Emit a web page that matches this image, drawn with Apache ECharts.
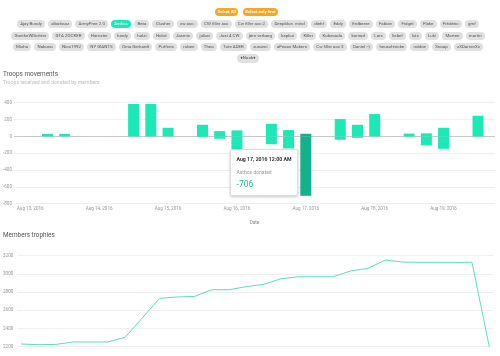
<!DOCTYPE html>
<html><head><meta charset="utf-8">
<script src="https://cdn.jsdelivr.net/npm/echarts@6/dist/echarts.min.js"></script>
<style>
html,body{margin:0;padding:0;width:500px;height:356px;overflow:hidden;background:#fff;font-family:Roboto,sans-serif;}
#chart{position:absolute;left:0;top:0;width:500px;height:420px;}
#header{position:absolute;left:0;top:0;width:500px;height:70px;z-index:5;}
.btns{position:absolute;top:7.5px;left:0;width:493px;display:flex;justify-content:center;gap:4.3px;}
.btn{height:8px;line-height:8px;padding:0 2.6px;border-radius:4px;background:#f5a623;color:#fff;font-size:4.3px;font-weight:700;white-space:nowrap;}
.row{position:absolute;left:0;width:496px;display:flex;justify-content:center;gap:3px;}
.chip{height:8.3px;line-height:8.3px;padding:0 3.2px;border-radius:4.2px;background:#e0e0e0;color:#555;font-size:4.4px;white-space:nowrap;}
.chip.sel{background:#1de9b6;color:#fff;}
</style></head>
<body>
<div id="chart"></div>
<div id="header"></div>
<script>
// ---------- data ----------
const buttons = ['Select All', 'Select only first'];
const memberRow1 = ['Ajay Bundy','albatracz','ArmyPree 2.0','Asthos','Beta','Clusher','cw acc.','CW filler acc','Cw filler acc 2','Deepblue. mind','diehf','Eddy','Erdbeere','Fabian','Fidget','Flake','Frédéric','gmf'];
const memberRow2 = ['GoetheWDichter','GTA ZOCKER','Hamster','hardy','holzi','Hohd','Jasmin','julian','Just 4 CW','jörn verbarg','kepkui','Killer','Kobecada','konrad','Lars','liebel','luis','Luki','Marten','martin'];
const memberRow3 = ['Micha','Nabuco','Nico1992','NY GIANTS','Oma Gerhardt','Puffreis','ruben','Theo','Tote ADER','zunami','aPeace Makers','Cw filler acc 3','Daniel :-)','heuschrecke','robbie','Snoop','xXDarrenXx'];
const memberRow4 = ['♦Noab♦'];
const selectedMember = 'Asthos';

const troopTimes = ['2016-08-13 06:00','2016-08-13 12:00','2016-08-14 12:00','2016-08-14 18:00','2016-08-15 00:00','2016-08-15 12:00','2016-08-15 18:00','2016-08-16 00:00','2016-08-16 12:00','2016-08-16 18:00','2016-08-17 00:00','2016-08-17 12:00','2016-08-17 18:00','2016-08-18 00:00','2016-08-18 12:00','2016-08-18 18:00','2016-08-19 00:00','2016-08-19 12:00'];
const received = [30,30,385,385,102,138,63,71,150,75,31,206,138,265,33,36,102,245];
const donated  = [0,0,0,0,0,-8,-28,-150,-92,-143,-706,-40,-17,0,-3,-107,-148,0];
const tooltipTime = '2016-08-17 00:00';

const trophyTimes = ['2016-08-13 00:00','2016-08-13 06:00','2016-08-13 12:00','2016-08-13 18:00','2016-08-14 00:00','2016-08-14 06:00','2016-08-14 12:00','2016-08-14 18:00','2016-08-15 00:00','2016-08-15 06:00','2016-08-15 12:00','2016-08-15 18:00','2016-08-16 00:00','2016-08-16 06:00','2016-08-16 12:00','2016-08-16 18:00','2016-08-17 00:00','2016-08-17 06:00','2016-08-17 12:00','2016-08-17 18:00','2016-08-18 00:00','2016-08-18 06:00','2016-08-18 12:00','2016-08-18 18:00','2016-08-19 00:00','2016-08-19 06:00','2016-08-19 12:00','2016-08-19 18:00'];
const trophies = [2230,2222,2225,2252,2252,2252,2303,2518,2732,2746,2752,2826,2826,2860,2886,2947,2969,2969,2969,3032,3061,3152,3130,3128,3128,3127,3127,2200];

const troopsTicks = [-800,-600,-400,-200,0,200,400];
const trophyTicks = [2200,2400,2600,2800,3000,3200];
const monthNames = ['Jan','Feb','Mar','Apr','May','Jun','Jul','Aug','Sep','Oct','Nov','Dec'];

// ---------- header (buttons + member chips) ----------
const headerEl = document.getElementById('header');
const bw = document.createElement('div'); bw.className='btns';
buttons.forEach(b=>{const e=document.createElement('div');e.className='btn';e.textContent=b;bw.appendChild(e);});
headerEl.appendChild(bw);
const rowTops = [20.05, 31.65, 42.65, 54.35];
[memberRow1,memberRow2,memberRow3,memberRow4].forEach((row,ri)=>{
  const r=document.createElement('div'); r.className='row'; r.style.top=rowTops[ri]+'px';
  row.forEach(n=>{const c=document.createElement('div');c.className='chip'+(n===selectedMember?' sel':'');c.textContent=n;r.appendChild(c);});
  headerEl.appendChild(r);
});

// ---------- helpers ----------
function ts(s){const [d,t]=s.split(' ');const [y,m,dd]=d.split('-').map(Number);const [h,mi]=t.split(':').map(Number);return new Date(y,m-1,dd,h,mi).getTime();}
const HOUR=3600000, DAY=86400000;
function dayLabel(v){const d=new Date(v);if(d.getHours()||d.getMinutes())return '';return monthNames[d.getMonth()]+' '+d.getDate()+', '+d.getFullYear();}
function fullLabel(v){const d=new Date(v);let h=d.getHours();const ap=h<12?'AM':'PM';h=h%12;if(h===0)h=12;const mi=String(d.getMinutes()).padStart(2,'0');return dayLabel(new Date(d.getFullYear(),d.getMonth(),d.getDate()).getTime())+' '+h+':'+mi+' '+ap;}

const BAR='#1de9b6', BAR_DARK='#17b08c';
const day13 = ts('2016-08-13 00:00'), day19 = ts('2016-08-19 00:00');
const recData = troopTimes.map((t,i)=>({value:[ts(t),received[i]], itemStyle: t===tooltipTime?{color:BAR_DARK}:undefined}));
const donData = troopTimes.map((t,i)=>({value:[ts(t),donated[i]], itemStyle: t===tooltipTime?{color:BAR_DARK}:undefined}));
const troLine = trophyTimes.map((t,i)=>[ts(t),trophies[i]]);

const axisLbl = {fontSize:4.6,color:'#999',fontFamily:'Roboto'};
const plainNum = v => String(v);
const chart = echarts.init(document.getElementById('chart'),null,{renderer:'canvas'});
chart.setOption({
  animation:false,
  backgroundColor:'transparent',
  textStyle:{fontFamily:'Roboto'},
  title:[
    {text:'Troops movements',subtext:'Troops received and donated by members',left:3,top:70.7,itemGap:0.5,padding:0,
     textStyle:{fontSize:6.4,lineHeight:8,fontWeight:'normal',color:'#555',fontFamily:'Roboto'},
     subtextStyle:{fontSize:5.2,lineHeight:7,color:'#bbb',fontFamily:'Roboto'}},
    {text:'Members trophies',left:3,top:231.7,padding:0,
     textStyle:{fontSize:6.4,lineHeight:8,fontWeight:'normal',color:'#555',fontFamily:'Roboto'}}
  ],
  grid:[
    {left:14,right:5,top:102.7,bottom:420-203.7},
    {left:17,right:7,top:255.7,bottom:420-346.7}
  ],
  xAxis:[
    {type:'time',gridIndex:0,min:day13-3.75*HOUR,max:day19+16*HOUR,minInterval:DAY,maxInterval:DAY,splitNumber:7,
     name:'Date',nameLocation:'middle',nameGap:17,nameTextStyle:{fontSize:4.6,color:'#888'},
     axisLine:{show:false},axisTick:{show:false},splitLine:{show:false},
     axisLabel:{...axisLbl,margin:3,formatter:dayLabel,hideOverlap:false,showMinLabel:false,showMaxLabel:false}},
    {type:'time',gridIndex:1,min:ts(trophyTimes[0])-1.28*HOUR,max:ts(trophyTimes[trophyTimes.length-1])+1.28*HOUR,minInterval:DAY,maxInterval:DAY,
     axisLine:{show:false},axisTick:{show:false},splitLine:{show:false},
     axisLabel:{show:false}}
  ],
  yAxis:[
    {type:'value',gridIndex:0,min:troopsTicks[0],max:troopsTicks[troopsTicks.length-1],interval:200,
     axisLine:{show:false},axisTick:{show:false},axisLabel:{...axisLbl,margin:2,formatter:plainNum},
     splitLine:{lineStyle:{color:troopsTicks.map(v=>v===0?'#c8c8c8':'#efefef'),width:1}}},
    {type:'value',gridIndex:1,min:trophyTicks[0],max:trophyTicks[trophyTicks.length-1],interval:200,
     axisLine:{show:false},axisTick:{show:false},axisLabel:{...axisLbl,margin:4,formatter:plainNum},
     splitLine:{lineStyle:{color:'#efefef',width:1}}}
  ],
  tooltip:{
    trigger:'item',triggerOn:'none',alwaysShowContent:true,transitionDuration:0,showDelay:0,
    position:[229.5,148.5],padding:0,backgroundColor:'#fff',borderColor:'#ddd',borderWidth:1,borderRadius:2,
    extraCssText:'box-shadow:0 1px 3px rgba(0,0,0,0.22);width:68px;height:46.5px;box-sizing:border-box;',
    formatter:function(p){
      return '<div style="font-family:Roboto;padding:4.5px 0 0 5.5px;text-align:left">'+
        '<div style="font-size:5.2px;line-height:8px;font-weight:700;color:#333;white-space:nowrap">'+fullLabel(p.value[0])+'</div>'+
        '<div style="font-size:5px;line-height:7px;color:#999;margin-top:6.8px;white-space:nowrap">'+selectedMember+' donated</div>'+
        '<div style="font-size:8.6px;line-height:10px;color:#26b99a;margin-top:2.5px">'+p.value[1]+'</div></div>';
    }
  },
  series:[
    {type:'bar',name:'received',stack:'troops',xAxisIndex:0,yAxisIndex:0,barWidth:11,itemStyle:{color:BAR},data:recData},
    {type:'bar',name:'donated',stack:'troops',xAxisIndex:0,yAxisIndex:0,barWidth:11,itemStyle:{color:BAR},data:donData},
    {type:'line',name:'trophies',xAxisIndex:1,yAxisIndex:1,symbol:'none',lineStyle:{color:'#5fd9c2',width:1},data:troLine}
  ]
});
chart.dispatchAction({type:'showTip',seriesIndex:1,dataIndex:troopTimes.indexOf(tooltipTime)});
</script>
</body></html>
